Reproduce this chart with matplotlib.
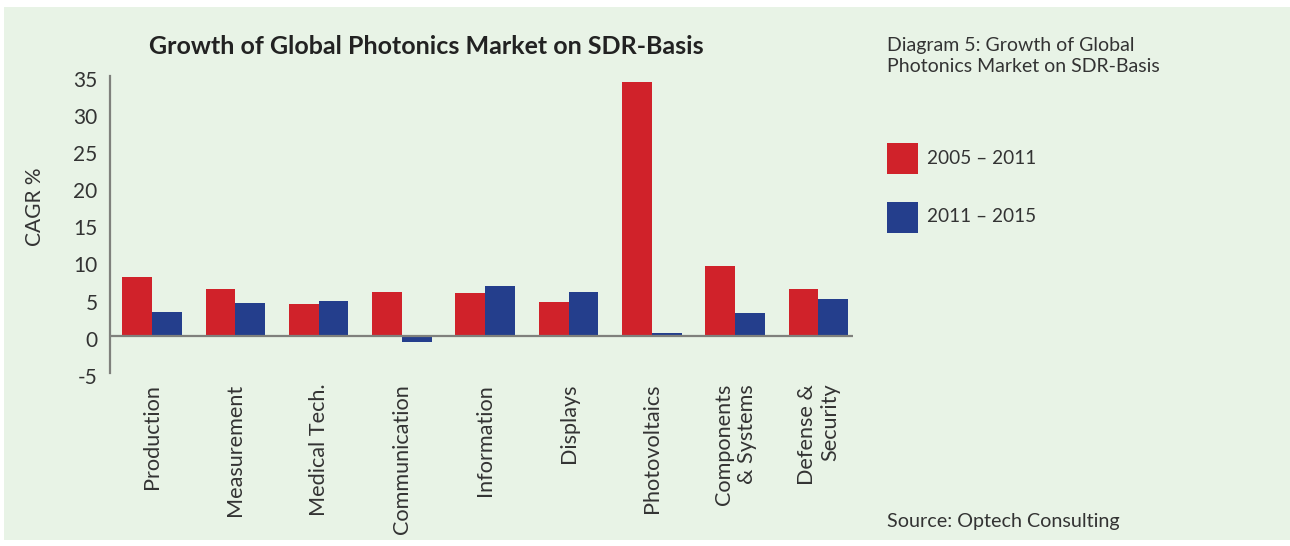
import matplotlib
matplotlib.use("Agg")
import matplotlib.pyplot as plt
import matplotlib.transforms as mtransforms
import numpy as np
from matplotlib.patches import Rectangle

categories = ["Production", "Measurement", "Medical Tech.", "Communication",
              "Information", "Displays", "Photovoltaics", "Components\n& Systems",
              "Defense &\nSecurity"]
cagr_2005_2011 = [7.9, 6.3, 4.3, 5.9, 5.75, 4.5, 34.2, 9.4, 6.3]
cagr_2011_2015 = [3.2, 4.4, 4.7, -0.85, 6.7, 5.9, 0.35, 3.05, 4.95]
series_labels = ["2005 – 2011", "2011 – 2015"]
yticks = [-5, 0, 5, 10, 15, 20, 25, 30, 35]

RED = "#D0222A"
BLUE = "#243E8C"
BG = "#E8F3E6"
TXT = "#333333"
AXC = "#7F807C"

plt.rcParams['font.family'] = ['Lato', 'DejaVu Sans']

W, H = 1290, 546
fig = plt.figure(figsize=(W / 100, H / 100), dpi=100)
fig.patch.set_facecolor("white")

def px(x, y):
    return (x / W, 1 - y / H)

# background panel
fig.patches.append(Rectangle(px(4, 540), (W - 4) / W, (540 - 7) / H,
                             transform=fig.transFigure, facecolor=BG,
                             edgecolor="none", zorder=-10))

ax = fig.add_axes([110 / W, 1 - 372.7 / H, (853 - 110) / W, (372.7 - 76) / H])
ax.set_facecolor("none")
ax.set_zorder(5)

x = np.arange(len(categories))
bw = 0.357
ax.bar(x - bw / 2, cagr_2005_2011, width=bw, color=RED, zorder=2)
ax.bar(x + bw / 2, cagr_2011_2015, width=bw, color=BLUE, zorder=2)
ax.axhline(0, color=AXC, lw=1.6, zorder=3)

ax.set_xlim(-0.504, 8.415)
ax.set_ylim(-5, 35)
ax.set_yticks(yticks)
ax.set_yticklabels([str(v) for v in yticks])
ax.set_xticks(x)
ax.set_xticklabels(categories, rotation=90, va="top", ha="center",
                   multialignment="right")
ax.tick_params(axis="y", length=0, pad=9, labelsize=15, colors=TXT)
ax.tick_params(axis="x", length=0, pad=8, labelsize=15.6, colors=TXT)
shift = mtransforms.ScaledTranslation(0, -3 / 100, fig.dpi_scale_trans)
for lbl in ax.get_yticklabels():
    lbl.set_transform(lbl.get_transform() + shift)
for s in ["top", "right", "bottom"]:
    ax.spines[s].set_visible(False)
ax.spines["left"].set_color(AXC)
ax.spines["left"].set_linewidth(1.6)

fig.text(*px(35, 207), "CAGR %", rotation=90, ha="center", va="center",
         fontsize=15, color=TXT)

fig.text(*px(426, 47), "Growth of Global Photonics Market on SDR-Basis",
         ha="center", va="center", fontsize=18, fontweight="bold", color="#222222")

fig.text(*px(887, 56), "Diagram 5: Growth of Global\nPhotonics Market on SDR-Basis",
         ha="left", va="center", fontsize=14, color=TXT, linespacing=1.3)

# legend
for (yc, col, lab) in [(158, RED, series_labels[0]), (217, BLUE, series_labels[1])]:
    fig.patches.append(Rectangle(px(887, yc + 15.5), 31 / W, 31 / H,
                                 transform=fig.transFigure, facecolor=col,
                                 edgecolor="none", zorder=1))
    fig.text(*px(927, yc), lab, ha="left", va="center", fontsize=13.7, color=TXT)

fig.text(*px(887, 522), "Source: Optech Consulting", ha="left", va="center",
         fontsize=14.2, color=TXT)

fig.savefig("out.png", dpi=100, facecolor=fig.get_facecolor())
